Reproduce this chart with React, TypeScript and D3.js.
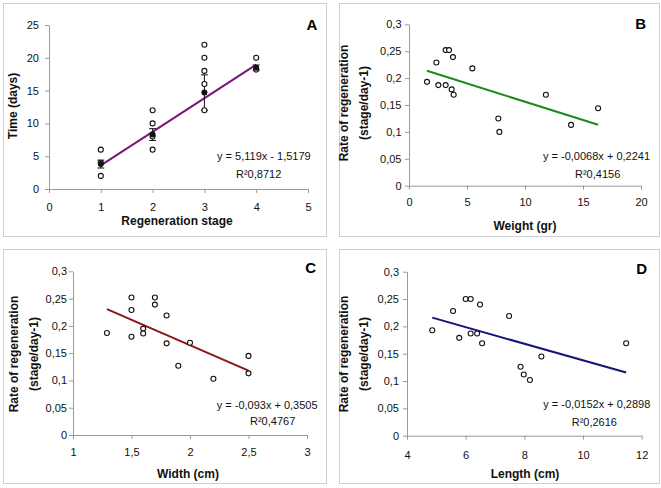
import React, { useEffect, useRef } from 'react';
import * as d3 from 'd3';

// panel A : time per regeneration stage
const stageX = [1, 1, 1, 2, 2, 2, 2, 3, 3, 3, 3, 3, 4, 4];
const stageDays = [6, 4, 2, 12, 10, 8, 6, 22, 20, 18, 16, 12, 20, 18.2];
const meanStage = [1, 2, 3, 4];
const meanDays = [3.8, 8.3, 14.7, 18.5];
const meanErr = [0.6, 0.9, 2.7, 0.4];
const stageTicks = [0, 1, 2, 3, 4, 5];
const daysTicks = [0, 5, 10, 15, 20, 25];

// panel B : weight
const weightGr = [1.55, 2.36, 2.53, 3.16, 3.45, 3.16, 3.79, 3.68, 3.85, 5.46, 7.7, 7.79, 11.8, 13.97, 16.3];
const rateByWeight = [0.193, 0.229, 0.187, 0.252, 0.252, 0.187, 0.239, 0.179, 0.169, 0.218, 0.125, 0.1, 0.169, 0.113, 0.144];
const weightTicks = [0, 5, 10, 15, 20];

// panel C : width
const widthCm = [1.29, 1.5, 1.5, 1.5, 1.6, 1.6, 1.7, 1.7, 1.8, 1.8, 1.9, 2.0, 2.2, 2.5, 2.5];
const rateByWidth = [0.187, 0.252, 0.229, 0.18, 0.195, 0.186, 0.252, 0.239, 0.219, 0.168, 0.127, 0.169, 0.103, 0.145, 0.113];
const widthTicks = [1, 1.5, 2, 2.5, 3];

// panel D : length
const lengthCm = [4.86, 5.57, 5.78, 6.0, 6.17, 6.17, 6.39, 6.49, 6.56, 7.48, 7.87, 7.98, 8.19, 8.58, 11.47];
const rateByLength = [0.193, 0.228, 0.179, 0.25, 0.25, 0.187, 0.187, 0.24, 0.169, 0.219, 0.126, 0.112, 0.102, 0.145, 0.169];
const lengthTicks = [4, 6, 8, 10, 12];

const rateTicks = [0, 0.05, 0.1, 0.15, 0.2, 0.25, 0.3];

// trend lines (slope, intercept, x from, x to)
const trendSlopes = [5.119, -0.0068, -0.093, -0.0152];
const trendIntercepts = [-1.5179, 0.2241, 0.3505, 0.2898];
const trendFrom = [1, 1.55, 1.29, 4.86];
const trendTo = [4, 16.3, 2.5, 11.47];
const equations = ['y = 5,119x - 1,5179', 'y = -0,0068x + 0,2241', 'y = -0,093x + 0,3505', 'y = -0,0152x + 0,2898'];
const r2Labels = ['R²0,8712', 'R²0,4156', 'R²0,4767', 'R²0,2616'];

const FONT = '"Liberation Sans", Arial, sans-serif';
const comma = (v: number) => String(v).replace('.', ',');

const panels = [
  {
    letter: 'A', xs: stageX, ys: stageDays, xTicks: stageTicks, yTicks: daysTicks,
    xDom: [0, 5], yDom: [0, 25], color: '#7d157f',
    frame: [3, 3, 323, 233], plot: [49, 308, 25, 189],
    yTitle: ['Time (days)'], yTitleX: [13], yTitleY: 106,
    xTitle: 'Regeneration stage', xTitlePos: [177, 221],
    letterPos: [312, 24], xLabelOff: 18, yLabelGap: 10,
    eqPos: [217, 156, 236, 174],
  },
  {
    letter: 'B', xs: weightGr, ys: rateByWeight, xTicks: weightTicks, yTicks: rateTicks,
    xDom: [0, 20], yDom: [0, 0.3], color: '#1c8a1c',
    frame: [339, 3, 320, 233], plot: [409, 641, 24.3, 185.7],
    yTitle: ['Rate of regeneration', '(stage/day-1)'], yTitleX: [343.5, 363.5], yTitleY: 103,
    xTitle: 'Weight (gr)', xTitlePos: [525, 226],
    letterPos: [640.7, 23], xLabelOff: 16.5, yLabelGap: 7.5,
    eqPos: [543, 156.3, 575, 174],
  },
  {
    letter: 'C', xs: widthCm, ys: rateByWidth, xTicks: widthTicks, yTicks: rateTicks,
    xDom: [1, 3], yDom: [0, 0.3], color: '#8a1717',
    frame: [3, 249, 323, 234], plot: [73, 307, 271.3, 435],
    yTitle: ['Rate of regeneration', '(stage/day-1)'], yTitleX: [13.5, 33.5], yTitleY: 354,
    xTitle: 'Width (cm)', xTitlePos: [188, 474],
    letterPos: [310.7, 267.5], xLabelOff: 17, yLabelGap: 6,
    eqPos: [216.7, 404.7, 250, 420.7],
  },
  {
    letter: 'D', xs: lengthCm, ys: rateByLength, xTicks: lengthTicks, yTicks: rateTicks,
    xDom: [4, 12], yDom: [0, 0.3], color: '#14147a',
    frame: [339, 249, 320, 234], plot: [407, 641.7, 271.7, 435.7],
    yTitle: ['Rate of regeneration', '(stage/day-1)'], yTitleX: [343.5, 363.5], yTitleY: 354,
    xTitle: 'Length (cm)', xTitlePos: [525, 474],
    letterPos: [641.7, 268], xLabelOff: 20, yLabelGap: 8,
    eqPos: [543.3, 404, 571.7, 422.3],
  },
];

const App = () => {
  const ref = useRef<SVGSVGElement>(null);

  useEffect(() => {
    const svg = d3.select(ref.current);
    svg.selectAll('*').remove();
    svg.append('rect').attr('width', 661).attr('height', 488).attr('fill', '#fff');

    panels.forEach((p, i) => {
      const g = svg.append('g');
      const [fx, fy, fw, fh] = p.frame;
      g.append('rect')
        .attr('x', fx + 0.5).attr('y', fy + 0.5)
        .attr('width', fw).attr('height', fh)
        .attr('fill', '#fff').attr('stroke', '#cfcfcf').attr('stroke-width', 1);

      const [left, right, top, bottom] = p.plot;
      const x = d3.scaleLinear().domain(p.xDom).range([left, right]);
      const y = d3.scaleLinear().domain(p.yDom).range([bottom, top]);

      const xAxis = g.append('g')
        .attr('transform', `translate(0,${bottom})`)
        .call(d3.axisBottom(x).tickValues(p.xTicks).tickFormat(d => comma(+d)).tickSize(4).tickSizeOuter(0).tickPadding(p.xLabelOff - 8));
      const yAxis = g.append('g')
        .attr('transform', `translate(${left},0)`)
        .call(d3.axisLeft(y).tickValues(p.yTicks).tickFormat(d => comma(+d)).tickSize(4).tickSizeOuter(0).tickPadding(p.yLabelGap - 4));
      [xAxis, yAxis].forEach(a => {
        a.selectAll('path, line').attr('stroke', '#9a9a9a');
        a.selectAll('text').attr('font-family', FONT).attr('font-size', 11).attr('fill', '#111');
      });

      // trend line
      const line = d3.line<number>()
        .x(d => x(d))
        .y(d => y(trendSlopes[i] * d + trendIntercepts[i]));
      g.append('path')
        .datum([trendFrom[i], trendTo[i]])
        .attr('fill', 'none')
        .attr('stroke', p.color)
        .attr('stroke-width', 2)
        .attr('d', line);

      // mean + error bars (panel A only)
      if (p.letter === 'A') {
        meanStage.forEach((s, k) => {
          const cx = x(s);
          const y0 = y(meanDays[k] - meanErr[k]);
          const y1 = y(meanDays[k] + meanErr[k]);
          g.append('line').attr('x1', cx).attr('x2', cx).attr('y1', y0).attr('y2', y1).attr('stroke', '#111').attr('stroke-width', 1);
          [y0, y1].forEach(yy => g.append('line').attr('x1', cx - 3.5).attr('x2', cx + 3.5).attr('y1', yy).attr('y2', yy).attr('stroke', '#111').attr('stroke-width', 1));
        });
      }

      g.selectAll('circle.pt')
        .data(p.xs.map((v, k) => [v, p.ys[k]]))
        .join('circle')
        .attr('class', 'pt')
        .attr('cx', d => x(d[0]))
        .attr('cy', d => y(d[1]))
        .attr('r', 2.5)
        .attr('fill', '#fff')
        .attr('stroke', '#111')
        .attr('stroke-width', 1.1);

      if (p.letter === 'A') {
        g.selectAll('circle.mean')
          .data(meanStage.map((s, k) => [s, meanDays[k]]))
          .join('circle')
          .attr('class', 'mean')
          .attr('cx', d => x(d[0]))
          .attr('cy', d => y(d[1]))
          .attr('r', 3)
          .attr('fill', '#111');
      }

      // titles
      p.yTitle.forEach((t, k) => {
        g.append('text')
          .attr('transform', `translate(${p.yTitleX[k]},${p.yTitleY}) rotate(-90)`)
          .attr('text-anchor', 'middle').attr('dominant-baseline', 'central')
          .attr('font-family', FONT).attr('font-size', 12).attr('font-weight', 'bold').attr('fill', '#111')
          .text(t);
      });
      g.append('text')
        .attr('x', p.xTitlePos[0]).attr('y', p.xTitlePos[1])
        .attr('text-anchor', 'middle').attr('dominant-baseline', 'central')
        .attr('font-family', FONT).attr('font-size', 12).attr('font-weight', 'bold').attr('fill', '#111')
        .text(p.xTitle);
      g.append('text')
        .attr('x', p.letterPos[0]).attr('y', p.letterPos[1])
        .attr('text-anchor', 'middle').attr('dominant-baseline', 'central')
        .attr('font-family', FONT).attr('font-size', 15).attr('font-weight', 'bold').attr('fill', '#000')
        .text(p.letter);

      const [e1x, e1y, e2x, e2y] = p.eqPos;
      g.append('text')
        .attr('x', e1x).attr('y', e1y).attr('dominant-baseline', 'central')
        .attr('font-family', FONT).attr('font-size', 11).attr('fill', '#111')
        .text(equations[i]);
      g.append('text')
        .attr('x', e2x).attr('y', e2y).attr('dominant-baseline', 'central')
        .attr('font-family', FONT).attr('font-size', 11).attr('fill', '#111')
        .text(r2Labels[i]);
    });
  }, []);

  return (
    <svg ref={ref} width={661} height={488} style={{ position: 'absolute', left: 0, top: 0 }} />
  );
};

export default App;
